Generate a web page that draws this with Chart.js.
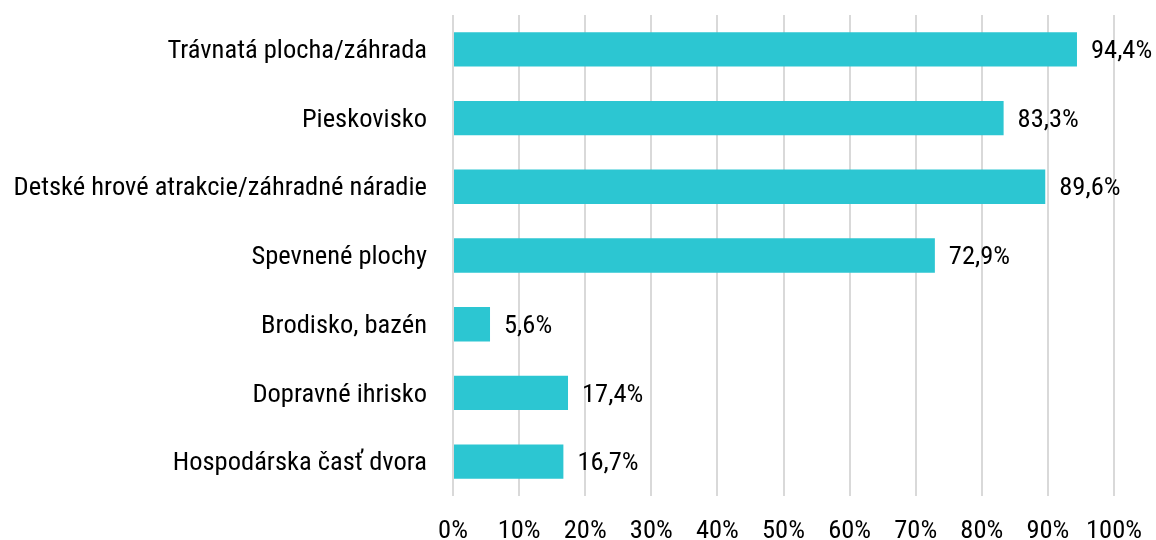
<!DOCTYPE html>
<html>
<head>
<meta charset="utf-8">
<script src="https://cdn.jsdelivr.net/npm/chart.js@4.4.1/dist/chart.umd.min.js"></script>
<style>
  html, body { margin: 0; padding: 0; background: #fff; }
  #wrap { width: 1156px; height: 540px; }
</style>
</head>
<body>
<div id="wrap"><canvas id="chart"></canvas></div>
<script>
"use strict";

// data
const categories = [
  'Trávnatá plocha/záhrada',
  'Pieskovisko',
  'Detské hrové atrakcie/záhradné náradie',
  'Spevnené plochy',
  'Brodisko, bazén',
  'Dopravné ihrisko',
  'Hospodárska časť dvora'
];
const values = [94.4, 83.3, 89.6, 72.9, 5.6, 17.4, 16.7];
const xTicks = [0, 10, 20, 30, 40, 50, 60, 70, 80, 90, 100];

const fontFamily = "'Roboto Condensed', 'Liberation Sans Narrow', 'Arial Narrow', Roboto, sans-serif";

// value labels right of bars
const barLabels = {
  id: 'barLabels',
  afterDatasetsDraw(chart) {
    const ctx = chart.ctx;
    const meta = chart.getDatasetMeta(0);
    ctx.save();
    ctx.font = '26.5px ' + fontFamily;
    ctx.fillStyle = '#000';
    ctx.textAlign = 'left';
    ctx.textBaseline = 'middle';
    meta.data.forEach((bar, i) => {
      let txt = values[i].toFixed(1).replace('.', ',') + '%';
      ctx.fillText(txt, bar.x + 14, bar.y + 2);
    });
    ctx.restore();
  }
};

let ctx = document.getElementById('chart');
let chart = new Chart(ctx, {
  type: 'bar',
  data: {
    labels: categories,
    datasets: [{
      data: values,
      backgroundColor: '#2cc6d2',
      borderWidth: 0,
      categoryPercentage: 1,
      barPercentage: 0.5
    }]
  },
  options: {
    indexAxis: 'y',
    responsive: true,
    maintainAspectRatio: false,
    animation: false,
    layout: { padding: { top: 15, right: 42, left: 0, bottom: 0 } },
    plugins: {
      legend: { display: false },
      tooltip: { enabled: false }
    },
    scales: {
      x: {
        min: 0,
        max: 100,
        afterBuildTicks: scale => { scale.ticks = xTicks.map(v => ({ value: v })); },
        afterFit: scale => {
          scale.height = 44;
          scale.paddingRight = 0;
        },
        border: { display: false },
        grid: { color: '#d9d9d9', lineWidth: 2, drawTicks: false },
        ticks: {
          color: '#000',
          padding: 19,
          font: { family: fontFamily, size: 26.5 },
          callback: v => v + '%'
        }
      },
      y: {
        afterFit: scale => {
          scale.width = 453;
          scale.paddingTop = 0;
          scale.paddingBottom = 0;
        },
        border: { display: false },
        grid: { display: false, drawTicks: false },
        ticks: {
          color: '#000',
          padding: 26,
          labelOffset: 2,
          font: { family: fontFamily, size: 26.5 }
        }
      }
    }
  },
  plugins: [barLabels]
});
</script>
</body>
</html>
